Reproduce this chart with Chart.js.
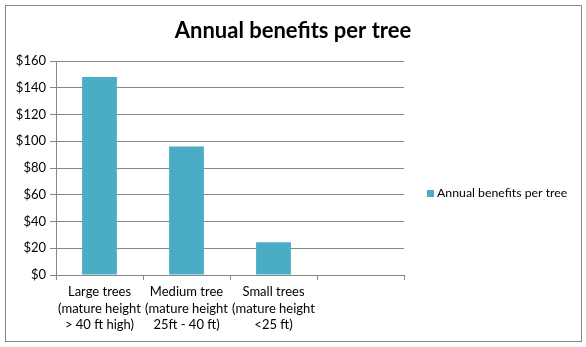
<!DOCTYPE html>
<html><head>
<script src="https://cdn.jsdelivr.net/npm/chart.js@4"></script>
<style>
body { margin: 0; background: #fff; }
</style></head><body>
<canvas id="chart" width="586" height="347"></canvas>
<script>
const TITLE = 'Annual benefits per tree';
const CATEGORIES = [
  ['Large trees', '(mature height', '> 40 ft high)'],
  ['Medium tree', '(mature height', '25ft - 40 ft)'],
  ['Small trees', '(mature height', '<25 ft)'],
  '',
];
const BENEFITS = [148, 96, 24.5, null];
const Y_TICKS = [0, 20, 40, 60, 80, 100, 120, 140, 160];

const BAR_COLOR = '#4BACC6';
const LINE_COLOR = '#868686';
const FONT = 'Lato, "Liberation Sans", sans-serif';

// outer frame, centred title and right-hand legend, Excel style
const frame = {
  id: 'frame',
  afterDraw(chart) {
    const ctx = chart.ctx;
    ctx.save();
    ctx.strokeStyle = LINE_COLOR;
    ctx.lineWidth = 1;
    ctx.strokeRect(5.5, 5.5, 576, 336);

    ctx.fillStyle = '#000';
    ctx.textAlign = 'center';
    ctx.textBaseline = 'middle';
    ctx.font = 'bold 22px ' + FONT;
    ctx.fillText(TITLE, 293, 31);

    const ds = chart.data.datasets[0];
    ctx.fillStyle = ds.backgroundColor;
    ctx.fillRect(427, 190, 7, 7);
    ctx.fillStyle = '#000';
    ctx.textAlign = 'left';
    ctx.font = '12.3px ' + FONT;
    ctx.fillText(ds.label, 437, 193.5);
    ctx.restore();
  }
};

new Chart(document.getElementById('chart'), {
  type: 'bar',
  data: {
    labels: CATEGORIES,
    datasets: [{
      label: 'Annual benefits per tree',
      data: BENEFITS,
      backgroundColor: BAR_COLOR,
      barPercentage: 0.4,
      categoryPercentage: 1,
    }]
  },
  options: {
    responsive: false,
    animation: false,
    layout: { padding: { top: 61, right: 182, left: 5, bottom: 0 } },
    plugins: {
      legend: { display: false },
      tooltip: { enabled: false },
      title: { display: false }
    },
    scales: {
      x: {
        offset: true,
        afterFit: s => { s.height = 72; },
        grid: { offset: true, drawOnChartArea: false, drawTicks: true, tickLength: 5, color: LINE_COLOR },
        border: { display: true, color: LINE_COLOR },
        ticks: { color: '#000', font: { family: FONT, size: 13, lineHeight: 1.27 }, maxRotation: 0, autoSkip: false, padding: 4 }
      },
      y: {
        min: 0, max: 160,
        afterFit: s => { s.width = 51; },
        afterBuildTicks: s => { s.ticks = Y_TICKS.map(v => ({ value: v })); },
        grid: { color: LINE_COLOR, tickLength: 6 },
        border: { display: true, color: LINE_COLOR },
        ticks: { color: '#000', font: { family: FONT, size: 13 }, padding: 4, callback: v => '$' + v }
      }
    }
  },
  plugins: [frame]
});
</script></body></html>
